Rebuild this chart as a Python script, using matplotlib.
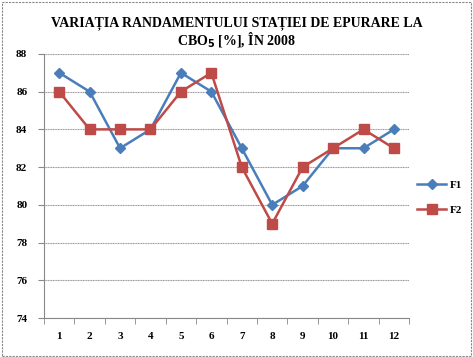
import matplotlib.pyplot as plt
from matplotlib.patches import Rectangle

# Date
luni = [1, 2, 3, 4, 5, 6, 7, 8, 9, 10, 11, 12]
f1 = [87, 86, 83, 84, 87, 86, 83, 80, 81, 83, 83, 84]
f2 = [86, 84, 84, 84, 86, 87, 82, 79, 82, 83, 84, 83]

plt.rcParams['font.family'] = ['Liberation Serif', 'DejaVu Serif']

fig = plt.figure(figsize=(4.73, 3.57), dpi=100)
ax = fig.add_axes([0.093, 0.109, 0.772, 0.740])

x = list(range(len(luni)))
ax.plot(x, f1, color='#4A7EBB', linewidth=1.8, marker='D', markersize=5, label='F1')
ax.plot(x, f2, color='#BE4B48', linewidth=1.8, marker='s', markersize=6.5, label='F2')

ax.set_xlim(-0.5, len(luni) - 0.5)
ax.set_ylim(74, 88)
ax.set_yticks(range(74, 89, 2))
ax.set_xticks(x)
ax.set_xticklabels([str(v) for v in luni], fontsize=8, fontweight='bold')
ax.set_xticks([i - 0.5 for i in range(len(luni) + 1)], minor=True)
ax.tick_params(axis='x', which='major', length=0, pad=10)
ax.tick_params(axis='x', which='minor', length=4, direction='out', color='#888888')
ax.tick_params(axis='y', length=4, direction='out', color='#888888', labelsize=8, pad=8)
for lbl in ax.get_yticklabels():
    lbl.set_fontweight('bold')

ax.grid(axis='y', color='#999999', linestyle=(0, (1, 0.5)), linewidth=0.8)
ax.set_axisbelow(True)
for s in ['top', 'right']:
    ax.spines[s].set_visible(False)
for s in ['left', 'bottom']:
    ax.spines[s].set_color('#888888')

fig.text(0.5, 0.935, 'VARIAȚIA RANDAMENTULUI STAȚIEI DE EPURARE LA',
         ha='center', va='center', fontsize=10, fontweight='bold')
fig.text(0.5, 0.89, 'CBO$_\\mathbf{5}$ [%], ÎN 2008',
         ha='center', va='center', fontsize=10, fontweight='bold')

ax.legend(loc='center left', bbox_to_anchor=(0.995, 0.456), frameon=False,
          prop={'size': 8, 'weight': 'bold'}, handlelength=2.6, handletextpad=0.3,
          labelspacing=1.4)

fig.patches.append(Rectangle((0.004, 0.004), 0.992, 0.99, transform=fig.transFigure,
                             fill=False, edgecolor='#888888', linestyle=(0, (2, 1)),
                             linewidth=0.8))

fig.savefig('out.png', dpi=100)
